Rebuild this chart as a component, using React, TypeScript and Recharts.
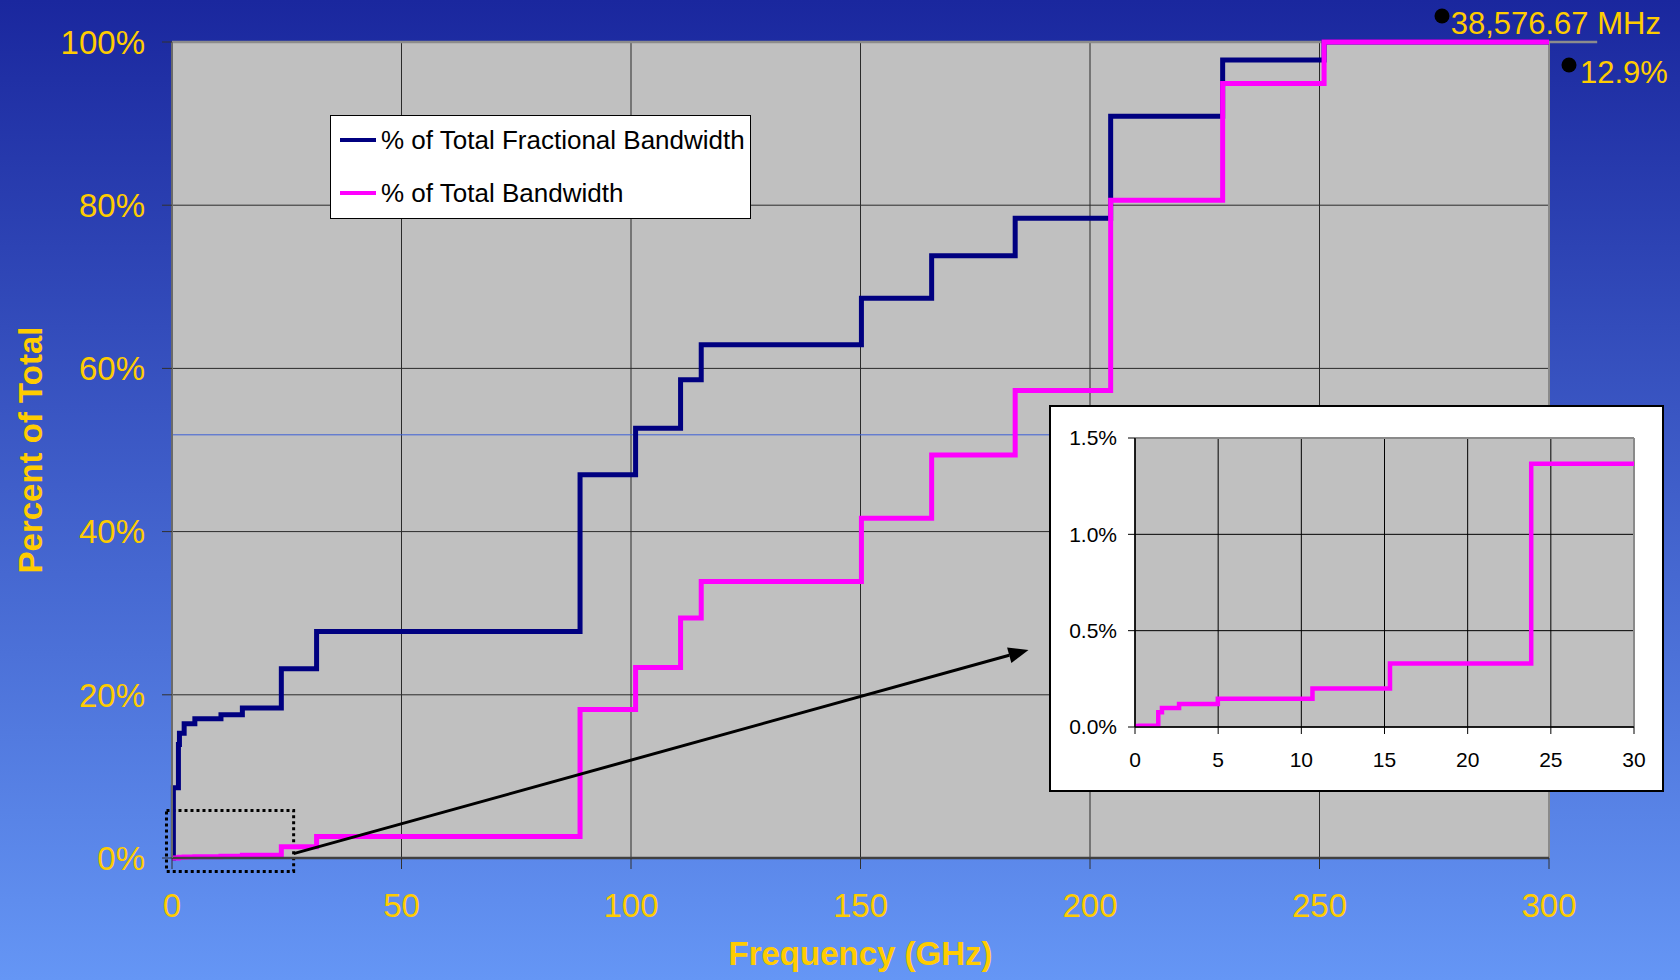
import React from 'react';
import { LineChart, Line, XAxis, YAxis, CartesianGrid, ReferenceLine, ReferenceArea, Legend } from 'recharts';

const gold = '#ffcc00';
const font = 'Arial, "Liberation Sans", sans-serif';

// step starts in GHz, shared by both cumulative series
const bandEdgesGHz = [0, 0.3, 1.4, 1.62, 2.65, 4.98, 10.67, 15.33, 23.82, 31.5, 88.9, 101, 110.8, 115.3, 150.2, 165.5, 183.7, 204.5, 228.9, 251, 300];
const fractionalPct = [0, 8.6, 13.9, 15.3, 16.45, 17.06, 17.55, 18.37, 23.2, 27.76, 46.96, 52.68, 58.6, 62.9, 68.6, 73.8, 78.4, 90.9, 97.8, 100, 100];
const bandwidthPct = [0.005, 0.007, 0.076, 0.098, 0.12, 0.147, 0.2, 0.33, 1.367, 2.65, 18.2, 23.35, 29.4, 33.9, 41.65, 49.4, 57.3, 80.6, 94.9, 100, 100];
const seriesNames = ['% of Total Fractional Bandwidth', '% of Total Bandwidth'];

const xTicks = [0, 50, 100, 150, 200, 250, 300];
const yTicks = [0, 20, 40, 60, 80, 100];
const insetXTicks = [0, 5, 10, 15, 20, 25, 30];
const insetYTicks = [0, 0.5, 1.0, 1.5];

const rows = bandEdgesGHz.map((f, i) => ({ f, frac: fractionalPct[i], bw: bandwidthPct[i] }));

// arrow from the zoom box to the inset
const Arrow = (p: any) => {
    const { x1, y1, x2, y2 } = p;
    const a = Math.atan2(y2 - y1, x2 - x1);
    const len = 20;
    const half = 8;
    const bx = x2 - len * Math.cos(a);
    const by = y2 - len * Math.sin(a);
    const pts = `${x2},${y2} ${bx - half * Math.sin(a)},${by + half * Math.cos(a)} ${bx + half * Math.sin(a)},${by - half * Math.cos(a)}`;
    return (
        <g>
            <line x1={x1} y1={y1} x2={bx} y2={by} stroke="#000" strokeWidth={3} />
            <polygon points={pts} fill="#000" />
        </g>
    );
};

const renderLegend = (props: any) => {
    const items = [...(props.payload || [])].sort((a: any, b: any) => seriesNames.indexOf(a.value) - seriesNames.indexOf(b.value));
    return (
        <div style={{ position: 'relative', width: 421, height: 104, background: '#fff', border: '1.5px solid #000', boxSizing: 'border-box', fontFamily: font }}>
            {items.map((e: any, i: number) => (
                <div key={i} style={{ position: 'absolute', left: 0, top: 24.3 + i * 52.4 - 15, height: 30, display: 'flex', alignItems: 'center' }}>
                    <span style={{ display: 'inline-block', marginLeft: 9, width: 36, height: 4, background: e.color }} />
                    <span style={{ marginLeft: 5, fontSize: 26, color: '#000', lineHeight: '30px', whiteSpace: 'nowrap' }}>{e.value}</span>
                </div>
            ))}
        </div>
    );
};

export default function App() {
    return (
        <div style={{ position: 'absolute', left: 0, top: 0, width: 1680, height: 980, overflow: 'hidden', background: 'linear-gradient(180deg, #1a279e 0%, #6596f5 100%)', fontFamily: font }}>
            <LineChart width={1680} height={980} data={rows} margin={{ top: 42, right: 131, bottom: 0, left: 0 }}>
                <CartesianGrid fill="#c0c0c0" stroke="#2a2a2a" />
                <XAxis
                    type="number"
                    dataKey="f"
                    domain={[0, 300]}
                    ticks={xTicks}
                    interval={0}
                    height={122}
                    tickSize={11}
                    tickMargin={25}
                    axisLine={{ stroke: '#404040', strokeWidth: 2.5 }}
                    tickLine={{ stroke: '#303030' }}
                    tick={{ fill: gold, fontSize: 33, fontFamily: font }}
                    label={{ value: 'Frequency (GHz)', position: 'insideBottom', offset: 15, fill: gold, fontSize: 33, fontWeight: 'bold', fontFamily: font }}
                />
                <YAxis
                    type="number"
                    domain={[0, 100]}
                    ticks={yTicks}
                    interval={0}
                    width={172}
                    tickSize={10}
                    tickMargin={17}
                    tickFormatter={(v) => `${v}%`}
                    axisLine={{ stroke: '#6a6a6a', strokeWidth: 2 }}
                    tickLine={{ stroke: '#303030' }}
                    tick={{ fill: gold, fontSize: 33, fontFamily: font }}
                    label={{ value: 'Percent of Total', angle: -90, position: 'insideLeft', offset: 30, textAnchor: 'middle', fill: gold, fontSize: 33, fontWeight: 'bold', fontFamily: font }}
                />
                <ReferenceLine y={51.86} stroke="#3d5fd6" strokeWidth={1} />
                <ReferenceLine x={300} stroke="#8a8a8a" strokeWidth={2} />
                <ReferenceLine segment={[{ x: 0, y: 100 }, { x: 310.5, y: 100 }]} stroke="#8c8c8c" strokeWidth={2.5} ifOverflow="visible" />
                <Legend
                    layout="vertical"
                    align="center"
                    verticalAlign="middle"
                    content={renderLegend}
                    wrapperStyle={{ left: 330, top: 115, width: 421, height: 104 }}
                />
                <Line dataKey="frac" name={seriesNames[0]} type="stepAfter" stroke="#000080" strokeWidth={5} dot={false} isAnimationActive={false} />
                <Line dataKey="bw" name={seriesNames[1]} type="stepAfter" stroke="#ff00ff" strokeWidth={5} dot={false} isAnimationActive={false} />
                <ReferenceArea x1={-1.2} x2={26.5} y1={-1.64} y2={5.83} ifOverflow="visible" fill="none" fillOpacity={0} stroke="#000" strokeWidth={3} strokeDasharray="3 3" />
                <ReferenceLine segment={[{ x: 26.5, y: 0.53 }, { x: 186.6, y: 25.5 }]} shape={Arrow} ifOverflow="visible" />
            </LineChart>

            <div style={{ position: 'absolute', left: 1049, top: 405, width: 615, height: 387, background: '#fff', border: '2px solid #000', boxSizing: 'border-box' }}>
                <LineChart width={611} height={383} data={rows} margin={{ top: 31, right: 28, bottom: 0, left: 0 }}>
                    <CartesianGrid fill="#c0c0c0" stroke="#000" />
                    <XAxis
                        type="number"
                        dataKey="f"
                        domain={[0, 30]}
                        allowDataOverflow
                        ticks={insetXTicks}
                        interval={0}
                        height={63}
                        tickSize={7}
                        tickMargin={18}
                        axisLine={{ stroke: '#000', strokeWidth: 1.5 }}
                        tickLine={{ stroke: '#000' }}
                        tick={{ fill: '#000', fontSize: 21, fontFamily: font }}
                    />
                    <YAxis
                        type="number"
                        domain={[0, 1.5]}
                        allowDataOverflow
                        ticks={insetYTicks}
                        interval={0}
                        width={84}
                        tickSize={7}
                        tickMargin={11}
                        tickFormatter={(v) => `${Number(v).toFixed(1)}%`}
                        axisLine={{ stroke: '#000', strokeWidth: 1.5 }}
                        tickLine={{ stroke: '#000' }}
                        tick={{ fill: '#000', fontSize: 21, fontFamily: font }}
                    />
                    <ReferenceLine y={1.5} stroke="#8a8a8a" strokeWidth={2} />
                    <ReferenceLine x={30} stroke="#8a8a8a" strokeWidth={2} />
                    <Line dataKey="bw" type="stepAfter" stroke="#ff00ff" strokeWidth={4.5} dot={false} isAnimationActive={false} />
                </LineChart>
            </div>

            <svg width={1680} height={980} style={{ position: 'absolute', left: 0, top: 0, pointerEvents: 'none' }}>
                <circle cx={1442} cy={16} r={7.5} fill="#000" />
                <text x={1450.7} y={34.3} fill={gold} fontSize={31} fontFamily={font}>38,576.67 MHz</text>
                <circle cx={1569} cy={65} r={7.5} fill="#000" />
                <text x={1580} y={83} fill={gold} fontSize={31} fontFamily={font}>12.9%</text>
            </svg>
        </div>
    );
}
